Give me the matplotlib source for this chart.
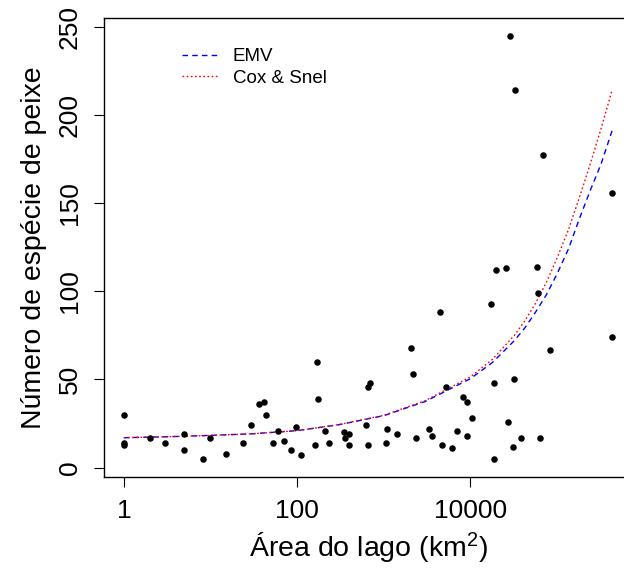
import numpy as np
import matplotlib
matplotlib.use("Agg")
import matplotlib.pyplot as plt

#フォント設定 (RのArial相当)
plt.rcParams['font.family'] = ['Liberation Sans', 'DejaVu Sans']
plt.rcParams['mathtext.fontset'] = 'custom'
plt.rcParams['mathtext.rm'] = 'Liberation Sans'
plt.rcParams['mathtext.default'] = 'regular'

#湖の面積 (km2) と魚の種数
area = [1, 1, 1, 2, 3, 5, 5, 8.2, 10, 15,
        24, 29, 36, 41, 44, 60, 53, 70, 86, 98,
        111, 168, 174, 162, 210, 232, 348, 353, 398, 395,
        624, 663, 688, 663, 1070, 1100, 1420, 2040, 2170, 2380,
        3300, 3600, 4410, 4660, 5260, 6170, 7050, 8280, 9200, 10400,
        9200, 18500, 19700, 25500, 17300, 18500, 27000, 31000, 31700, 38300,
        58400, 60200, 64000, 82600, 430000, 28800, 33000, 68600, 430000]
species = [30, 14, 13, 17, 14, 19, 10, 5, 17, 8,
           14, 24, 36, 37, 30, 21, 14, 15, 10, 23,
           7, 60, 39, 13, 21, 14, 20, 17, 19, 13,
           24, 46, 48, 13, 14, 22, 19, 68, 53, 17,
           22, 18, 88, 13, 46, 11, 21, 40, 37, 28,
           18, 48, 112, 113, 93, 5, 26, 12, 50, 17,
           114, 99, 17, 67, 74, 245, 214, 177, 156]

#曲線
curve_area = [1, 3, 10, 30, 100, 300, 1000, 3000, 10000, 18000,
              32000, 42000, 56000, 75000, 100000, 135000, 180000, 240000,
              320000, 430000]
emv = [17, 17.5, 18.3, 19.2, 21, 24.3, 29.5, 37.5, 50.5, 59.7,
       72, 79, 88, 98, 110, 124, 141, 157, 172, 191]
cox_snel = [17, 17.5, 18.3, 19.2, 21, 24.4, 29.7, 38, 51.5, 61.5,
            75, 83, 93, 105, 119, 135, 153, 172, 192, 214]

fig = plt.figure(figsize=(6.24, 5.71), dpi=100)
ax = fig.add_axes([0.1671, 0.1652, 0.8457, 0.8028])

ax.scatter(area, species, s=22, color='black', zorder=3, linewidths=0)
ax.plot(curve_area, emv, color='blue', lw=1, dashes=(4, 3), label='EMV')
ax.plot(curve_area, cox_snel, color='red', lw=1, dashes=(1.2, 1.8), label='Cox & Snel')

ax.set_xscale('log')
ax.set_xlim(0.595, 7.3e5)
ax.set_ylim(-5.1, 254.8)
ax.set_xticks([1, 100, 10000])
ax.set_xticklabels(['1', '100', '10000'])
ax.xaxis.set_minor_locator(matplotlib.ticker.NullLocator())
ax.set_yticks([0, 50, 100, 150, 200, 250])

ax.tick_params(axis='both', length=7, width=0.8, labelsize=19, pad=9)
for lab in ax.get_yticklabels():
    lab.set_rotation(90)
    lab.set_va('center')
for sp in ax.spines.values():
    sp.set_linewidth(1.0)

ax.set_xlabel(r'Área do lago (km$^2$)', fontsize=20.5, labelpad=5)
ax.set_ylabel('Número de espécie de peixe', fontsize=20.5, labelpad=8)

ax.legend(loc='upper left', bbox_to_anchor=(182 / 624, 1 - 48 / 571),
          bbox_transform=fig.transFigure, frameon=False, fontsize=13.5,
          handlelength=1.87, handletextpad=0.85, borderpad=0, borderaxespad=0,
          labelspacing=0.25)

fig.savefig('out.png', dpi=100)
